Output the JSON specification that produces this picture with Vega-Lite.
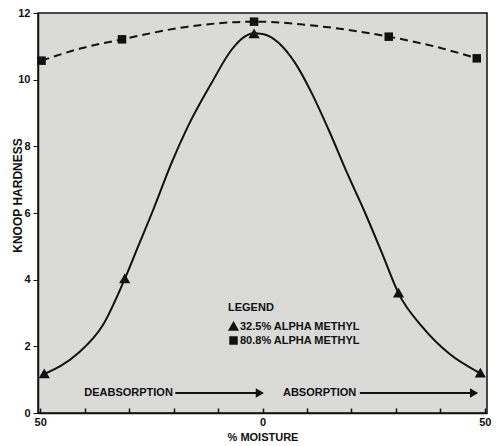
{
  "$schema": "https://vega.github.io/schema/vega-lite/v6.json",
  "width": 449,
  "height": 400,
  "autosize": {"type": "none"},
  "padding": {"left": 38, "top": 13, "right": 14, "bottom": 33},
  "background": "white",
  "config": {
    "font": "Liberation Sans",
    "view": {"fill": "#dadad8", "stroke": "#111", "strokeWidth": 1.5},
    "axis": {"grid": false, "domainColor": "#111", "domainWidth": 1.5, "tickColor": "#111", "labelColor": "#111", "titleColor": "#111", "labelFontWeight": "bold", "labelFontSize": 11, "titleFontSize": 11, "titleFontWeight": "bold"}
  },
  "datasets": {
    "markers": [
      {"moisture": -49.1, "hardness": 1.17, "series": "32.5% ALPHA METHYL"},
      {"moisture": -31.0, "hardness": 4.02, "series": "32.5% ALPHA METHYL"},
      {"moisture": -1.9, "hardness": 11.37, "series": "32.5% ALPHA METHYL"},
      {"moisture": 30.6, "hardness": 3.59, "series": "32.5% ALPHA METHYL"},
      {"moisture": 49.0, "hardness": 1.19, "series": "32.5% ALPHA METHYL"},
      {"moisture": -49.7, "hardness": 10.57, "series": "80.8% ALPHA METHYL"},
      {"moisture": -31.6, "hardness": 11.21, "series": "80.8% ALPHA METHYL"},
      {"moisture": -1.9, "hardness": 11.74, "series": "80.8% ALPHA METHYL"},
      {"moisture": 28.4, "hardness": 11.29, "series": "80.8% ALPHA METHYL"},
      {"moisture": 48.2, "hardness": 10.64, "series": "80.8% ALPHA METHYL"}
    ],
    "curve32": [
      {"moisture": -49.1, "hardness": 1.17},
      {"moisture": -41.5, "hardness": 1.79},
      {"moisture": -35.9, "hardness": 2.64},
      {"moisture": -31.0, "hardness": 4.02},
      {"moisture": -28.0, "hardness": 4.99},
      {"moisture": -24.6, "hardness": 6.09},
      {"moisture": -20.5, "hardness": 7.49},
      {"moisture": -16.8, "hardness": 8.59},
      {"moisture": -11.5, "hardness": 9.89},
      {"moisture": -7.0, "hardness": 10.89},
      {"moisture": -4.0, "hardness": 11.29},
      {"moisture": -1.9, "hardness": 11.39},
      {"moisture": 0.0, "hardness": 11.37},
      {"moisture": 7.4, "hardness": 10.49},
      {"moisture": 11.1, "hardness": 9.59},
      {"moisture": 14.9, "hardness": 8.49},
      {"moisture": 19.4, "hardness": 7.09},
      {"moisture": 22.8, "hardness": 6.09},
      {"moisture": 26.9, "hardness": 4.79},
      {"moisture": 30.6, "hardness": 3.59},
      {"moisture": 35.9, "hardness": 2.59},
      {"moisture": 41.9, "hardness": 1.79},
      {"moisture": 49.0, "hardness": 1.19}
    ],
    "curve80": [
      {"moisture": -49.7, "hardness": 10.57},
      {"moisture": -40.8, "hardness": 10.94},
      {"moisture": -31.6, "hardness": 11.21},
      {"moisture": -16.8, "hardness": 11.59},
      {"moisture": -1.9, "hardness": 11.74},
      {"moisture": 14.9, "hardness": 11.57},
      {"moisture": 28.4, "hardness": 11.29},
      {"moisture": 38.9, "hardness": 10.99},
      {"moisture": 48.2, "hardness": 10.64}
    ],
    "arrows": [
      {"label": "DEABSORPTION", "tx": -40.1, "x1": -19.6, "x2": -0.6, "y": 0.6},
      {"label": "ABSORPTION", "tx": 4.6, "x1": 21.9, "x2": 47.6, "y": 0.6}
    ]
  },
  "layer": [
    {
      "data": {"name": "curve32"},
      "mark": {"type": "line", "interpolate": "monotone", "color": "#111", "strokeWidth": 2},
      "encoding": {
        "x": {"field": "moisture", "type": "quantitative", "scale": {"domain": [-50.5, 50.5], "nice": false},
          "axis": {"values": [-50, -40, -30, -20, -10, 0, 10, 20, 30, 40, 50], "labelExpr": "abs(datum.value) % 50 == 0 ? '' + abs(datum.value) : ''", "tickSize": -5, "tickWidth": 1.5, "labelPadding": 8, "title": "% MOISTURE", "titlePadding": 4, "labelFlush": false}},
        "y": {"field": "hardness", "type": "quantitative", "scale": {"domain": [0, 12], "nice": false},
          "axis": {"values": [0, 2, 4, 6, 8, 10, 12], "tickSize": 5, "labelPadding": 3, "title": "KNOOP HARDNESS", "titleFontSize": 12, "titleX": -21, "titleY": 182, "titleBaseline": "middle", "titleAlign": "center"}}
      }
    },
    {
      "data": {"name": "curve80"},
      "mark": {"type": "line", "interpolate": "monotone", "color": "#111", "strokeWidth": 2, "strokeDash": [8, 5]},
      "encoding": {
        "x": {"field": "moisture", "type": "quantitative"},
        "y": {"field": "hardness", "type": "quantitative"}
      }
    },
    {
      "data": {"name": "markers"},
      "mark": {"type": "point", "filled": true, "color": "#111", "opacity": 1, "size": 80, "strokeWidth": 0},
      "encoding": {
        "x": {"field": "moisture", "type": "quantitative"},
        "y": {"field": "hardness", "type": "quantitative"},
        "shape": {"field": "series", "type": "nominal", "scale": {"range": ["M-1.25,0.95L1.25,0.95L0,-1.25Z", "M-0.95,-0.95H0.95V0.95H-0.95Z"]},
          "legend": {"orient": "none", "legendX": 190, "legendY": 289, "title": "\u00a0\u00a0\u00a0LEGEND", "titleFontSize": 11, "titleFontWeight": "bold", "titleColor": "#111", "titlePadding": 8, "labelFontSize": 11, "labelFontWeight": "bold", "labelColor": "#111", "labelOffset": 1, "symbolSize": 80, "symbolFillColor": "#111", "symbolStrokeColor": "#111", "symbolStrokeWidth": 0, "rowPadding": 2, "padding": 0}}
      }
    },
    {
      "data": {"name": "arrows"},
      "mark": {"type": "rule", "color": "#111", "strokeWidth": 2},
      "encoding": {
        "x": {"field": "x1", "type": "quantitative"},
        "x2": {"field": "x2"},
        "y": {"field": "y", "type": "quantitative"}
      }
    },
    {
      "data": {"name": "arrows"},
      "mark": {"type": "point", "shape": "triangle-right", "filled": true, "color": "#111", "opacity": 1, "size": 90},
      "encoding": {
        "x": {"field": "x2", "type": "quantitative"},
        "y": {"field": "y", "type": "quantitative"}
      }
    },
    {
      "data": {"name": "arrows"},
      "mark": {"type": "text", "align": "left", "baseline": "middle", "fontWeight": "bold", "fontSize": 11, "color": "#111"},
      "encoding": {
        "x": {"field": "tx", "type": "quantitative"},
        "y": {"field": "y", "type": "quantitative"},
        "text": {"field": "label"}
      }
    }
  ]
}
